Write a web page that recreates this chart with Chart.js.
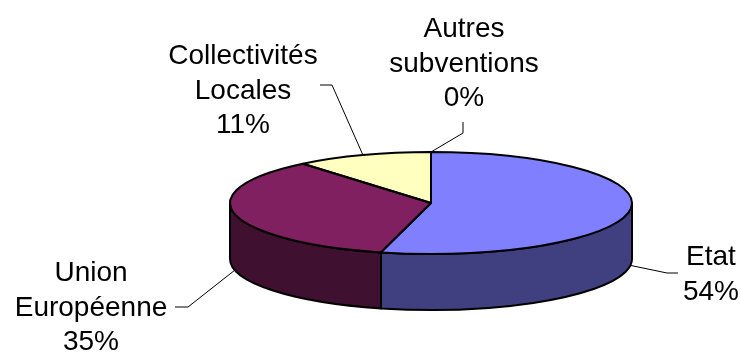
<!DOCTYPE html>
<html lang="fr">
<head>
<meta charset="utf-8">
<title>Répartition des subventions</title>
<script src="https://cdn.jsdelivr.net/npm/chart.js@4.4.1/dist/chart.umd.min.js"></script>
<style>
  html, body { margin: 0; padding: 0; background: #fff; }
  canvas { display: block; }
</style>
</head>
<body>
<canvas id="subChart" width="741" height="353"></canvas>
<script>
// funding sources, one array per field
const categories = [['Etat'], ['Union', 'Européenne'], ['Collectivités', 'Locales'], ['Autres', 'subventions']];
const shares = [54, 35, 11, 0];
const topColors = ['#8080FF', '#802060', '#FFFFC0', '#CCFFFF'];
const sideColors = ['#404080', '#401030', '#808060', '#668080'];

// label layout: text centre x, first baseline, leader elbow and leader end
const labelPos = [
  { x: 711, y: 265, elbow: [667, 273], end: [678, 273] },
  { x: 91, y: 281, elbow: [188, 307], end: [175, 307] },
  { x: 243, y: 64, elbow: [332, 85], end: [320, 85] },
  { x: 464, y: 37, elbow: [463, 133], end: [463, 122] }
];
const DEPTH = 56;
const LINE_H = 34.5;

// squash the pie into an ellipse and give it a rim
const pie3d = {
  id: 'pie3d',
  beforeDatasetsDraw(chart) {
    const ctx = chart.ctx;
    const arcs = chart.getDatasetMeta(0).data;
    const area = chart.chartArea;
    const cx = arcs[0].x, cy = arcs[0].y, r = arcs[0].outerRadius;
    const rx = (area.right - area.left) / 2, ry = r;
    chart.$ellipse = { cx, cy, rx, ry };

    // only the front half of the rim is visible
    arcs.forEach((arc, i) => {
      const a0 = Math.max(arc.startAngle, 0);
      const a1 = Math.min(arc.endAngle, Math.PI);
      if (a1 <= a0) return;
      ctx.beginPath();
      ctx.ellipse(cx, cy, rx, ry, 0, a0, a1);
      ctx.ellipse(cx, cy + DEPTH, rx, ry, 0, a1, a0, true);
      ctx.closePath();
      ctx.fillStyle = sideColors[i];
      ctx.fill();
      ctx.lineWidth = 2;
      ctx.lineJoin = 'round';
      ctx.strokeStyle = '#000';
      ctx.stroke();
    });

    ctx.save();
    ctx.translate(cx, cy);
    ctx.scale(rx / r, ry / r);
    ctx.translate(-cx, -cy);
  },
  afterDatasetsDraw(chart) {
    const ctx = chart.ctx;
    ctx.restore();
    const { cx, cy, rx, ry } = chart.$ellipse;
    const arcs = chart.getDatasetMeta(0).data;
    const total = shares.reduce((s, v) => s + v, 0);

    // outlines of the top face
    ctx.lineWidth = 2;
    ctx.strokeStyle = '#000';
    arcs.forEach(arc => {
      if (arc.endAngle <= arc.startAngle) return;
      ctx.beginPath();
      ctx.moveTo(cx, cy);
      ctx.ellipse(cx, cy, rx, ry, 0, arc.startAngle, arc.endAngle);
      ctx.closePath();
      ctx.stroke();
    });

    // leader lines and labels
    ctx.font = '28px "Liberation Sans", Arial, sans-serif';
    ctx.textAlign = 'center';
    ctx.textBaseline = 'alphabetic';
    arcs.forEach((arc, i) => {
      const pos = labelPos[i];
      const mid = (arc.startAngle + arc.endAngle) / 2;
      const px = cx + rx * Math.cos(mid);
      const py = cy + ry * Math.sin(mid) + (Math.sin(mid) > 0.01 ? DEPTH : 0);
      ctx.beginPath();
      ctx.moveTo(px, py);
      ctx.lineTo(pos.elbow[0], pos.elbow[1]);
      ctx.lineTo(pos.end[0], pos.end[1]);
      ctx.lineWidth = 1;
      ctx.strokeStyle = '#000';
      ctx.stroke();

      const lines = categories[i].concat(Math.round(shares[i] / total * 100) + '%');
      ctx.fillStyle = '#000';
      lines.forEach((t, k) => ctx.fillText(t, pos.x, pos.y + k * LINE_H));
    });
  }
};

new Chart(document.getElementById('subChart'), {
  type: 'pie',
  data: {
    labels: categories.map(c => c.join(' ')),
    datasets: [{
      data: shares,
      backgroundColor: topColors,
      borderWidth: 0,
      clip: false
    }]
  },
  options: {
    responsive: false,
    animation: false,
    events: [],
    layout: { padding: { left: 230, right: 109, top: 152, bottom: 99 } },
    plugins: {
      legend: { display: false },
      tooltip: { enabled: false }
    }
  },
  plugins: [pie3d]
});
</script>
</body>
</html>
